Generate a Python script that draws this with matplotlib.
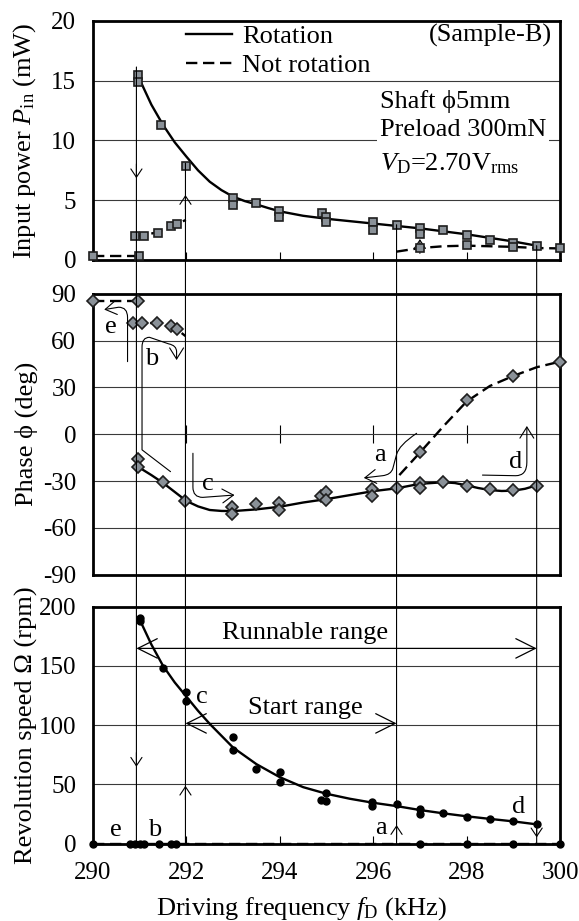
import matplotlib
matplotlib.use('Agg')
import matplotlib.pyplot as plt
from matplotlib.patches import ConnectionPatch, FancyArrowPatch
from matplotlib.path import Path
from matplotlib.lines import Line2D

plt.rcParams['font.family'] = ['Liberation Serif', 'DejaVu Serif']
plt.rcParams['mathtext.fontset'] = 'custom'
plt.rcParams['mathtext.rm'] = 'Liberation Serif'
plt.rcParams['mathtext.it'] = 'Liberation Serif:italic'
plt.rcParams['axes.unicode_minus'] = False
plt.rcParams['font.size'] = 19

# --- input power (top) ---
pin_rot_f = [290.97, 290.97, 291.46, 292.0, 293.0, 293.0, 293.49, 293.98, 293.98, 294.9, 295.0, 295.0,
             296.0, 296.0, 296.5, 297.0, 297.0, 297.5, 298.0, 298.5, 299.0, 299.5]
pin_rot = [15.5, 14.9, 11.3, 7.9, 5.2, 4.6, 4.8, 4.1, 3.6, 3.9, 3.6, 3.2,
           3.2, 2.5, 2.97, 2.7, 2.2, 2.5, 2.1, 1.7, 1.45, 1.2]
pin_rot_curve_f = [291.0, 291.25, 291.5, 291.75, 292.0, 292.25, 292.5, 292.75, 293.0, 293.25, 293.5,
                   293.75, 294.0, 294.5, 295.0, 296.0, 297.0, 298.0, 299.0, 299.5]
pin_rot_curve = [15.1, 13.0, 11.3, 9.85, 8.65, 7.5, 6.55, 5.85, 5.3, 4.93, 4.65,
                 4.35, 4.07, 3.7, 3.45, 3.05, 2.65, 2.15, 1.55, 1.2]
pin_not_f = [290.0, 290.99, 290.89, 291.09, 291.39, 291.68, 291.79, 297.0, 298.0, 299.0, 300.0]
pin_not = [0.33, 0.33, 2.0, 2.0, 2.3, 2.85, 3.0, 0.97, 1.25, 1.05, 0.97]
pin_not_c1_f = [290.0, 290.99]
pin_not_c1 = [0.33, 0.33]
pin_not_c2_f = [290.89, 291.09, 291.39, 291.68, 291.99]
pin_not_c2 = [2.0, 2.05, 2.35, 2.85, 3.35]
pin_not_c3_f = [296.5, 297.0, 297.5, 298.0, 298.5, 299.0, 299.5, 300.0]
pin_not_c3 = [0.7, 1.0, 1.15, 1.2, 1.15, 1.1, 1.0, 0.97]

# --- phase (middle) ---
ph_rot_f = [290.96, 290.96, 291.49, 291.98, 292.98, 292.98, 293.48, 293.98, 293.98, 294.88, 295.0, 295.0,
            295.98, 295.98, 296.5, 297.0, 297.0, 297.5, 298.0, 298.5, 299.0, 299.5]
ph_rot = [-15.8, -20.7, -30.8, -42.7, -46.4, -51.3, -44.9, -44.2, -48.5, -39.3, -37.2, -42.1,
          -35.1, -39.3, -34.6, -31.4, -34.6, -30.8, -32.9, -35.3, -35.7, -32.9]
ph_rot_curve_f = [290.96, 291.25, 291.5, 291.75, 292.0, 292.25, 292.5, 292.75, 293.0, 293.5, 294.0,
                  294.5, 295.0, 296.0, 296.5, 297.0, 297.5, 297.75, 298.0, 298.25, 298.5, 298.75,
                  299.0, 299.25, 299.5]
ph_rot_curve = [-20.8, -26.2, -31.2, -37.0, -42.8, -46.3, -48.6, -49.2, -49.3, -48.2, -46.5,
                -43.8, -41.6, -36.5, -34.7, -31.8, -30.8, -31.3, -32.8, -34.5, -35.8, -36.4,
                -36.2, -35.0, -32.8]
ph_not_f = [290.0, 290.96, 290.86, 291.05, 291.36, 291.66, 291.79, 297.0, 298.0, 299.0, 300.0]
ph_not = [85.7, 85.7, 71.2, 71.6, 71.2, 69.7, 67.5, -11.5, 22.0, 37.4, 46.6]
ph_not_c1_f = [290.0, 290.96]
ph_not_c1 = [85.7, 85.7]
ph_not_c2_f = [290.86, 291.05, 291.36, 291.66, 291.79, 291.98]
ph_not_c2 = [71.2, 71.6, 71.2, 69.7, 67.5, 63.0]
ph_not_c3_f = [296.56, 297.0, 297.5, 298.0, 298.5, 299.0, 299.5, 300.0]
ph_not_c3 = [-26.2, -11.8, 5.0, 21.0, 31.0, 37.4, 43.0, 46.6]

# --- revolution speed (bottom) ---
om_rot_f = [291.0, 291.0, 291.49, 291.99, 291.99, 292.99, 292.99, 293.48, 294.0, 294.0, 294.88, 295.0,
            295.0, 295.98, 295.98, 296.5, 297.0, 297.0, 297.5, 298.0, 298.5, 299.0, 299.5]
om_rot = [190.0, 188.0, 148.0, 128.0, 120.0, 89.5, 79.0, 63.0, 60.0, 52.0, 37.0, 42.5,
          35.5, 35.0, 31.6, 33.0, 29.0, 25.0, 26.0, 22.0, 20.7, 19.0, 16.8]
om_rot_curve_f = [291.0, 291.25, 291.5, 291.75, 292.0, 292.25, 292.5, 293.0, 293.5, 294.0, 294.5,
                  295.0, 295.5, 296.0, 296.5, 297.0, 297.5, 298.0, 298.5, 299.0, 299.5]
om_rot_curve = [189.0, 168.0, 150.0, 136.0, 124.0, 112.0, 101.0, 81.0, 67.0, 56.0, 47.6,
                42.0, 37.8, 34.4, 31.6, 28.3, 25.5, 23.0, 20.8, 18.7, 16.2]
om_not_f = [290.0, 290.8, 290.9, 291.0, 291.1, 291.41, 291.68, 291.77, 297.0, 298.0, 299.0, 300.0]
om_not = [0, 0, 0, 0, 0, 0, 0, 0, 0, 0, 0, 0]

# vertical guide lines (frequency, start value in top panel)
guide_f = [290.93, 291.98, 296.5, 299.5]
guide_top = [16.15, 8.1, 2.95, 1.2]

xticks = [290, 292, 294, 296, 298, 300]
GRAY = '#8a9198'
EDGE = '#1e1e1e'
DASH = (0, (4.8, 2.4))

fig = plt.figure(figsize=(5.79, 9.21), dpi=100)
ax1 = fig.add_axes([0.1606, 0.7177, 0.8066, 0.2595])
ax2 = fig.add_axes([0.1606, 0.3762, 0.8066, 0.3046])
ax3 = fig.add_axes([0.1606, 0.0841, 0.8066, 0.2573])


def style(ax, ylim, yticks, label_y):
    ax.set_xlim(290, 300)
    ax.set_ylim(*ylim)
    ax.set_yticks(yticks)
    ax.set_xticks(xticks)
    for s in ax.spines.values():
        s.set_linewidth(2.0)
    ax.grid(axis='y', color='#3a3a3a', lw=0.8)
    ax.set_axisbelow(True)
    ax.tick_params(axis='y', length=0, pad=12, labelsize=18)
    ax.tick_params(axis='x', direction='in', length=6, width=0.8, pad=13, labelsize=18)
    ax.yaxis.set_label_coords(-0.118, label_y)


style(ax1, (0, 20), [0, 5, 10, 15, 20], 0.535)
style(ax2, (-90, 90), [-90, -60, -30, 0, 30, 60, 90], 0.476)
style(ax3, (0, 200), [0, 50, 100, 150, 200], 0.47)
ax1.tick_params(axis='x', labelbottom=False)
ax2.tick_params(axis='x', length=0, labelbottom=False)

# cross ticks on the zero line of the phase panel
sec = ax2.secondary_xaxis(0.5)
sec.set_xticks([292, 294, 296, 298])
sec.tick_params(direction='inout', length=13, width=0.8, labeltop=False, labelbottom=False)
for s in sec.spines.values():
    s.set_visible(False)

sq = dict(marker='s', ms=6.0, mfc=GRAY, mec=EDGE, mew=1.2, ls='none', clip_on=False, zorder=4)
dm = dict(marker='D', ms=6.0, mfc=GRAY, mec=EDGE, mew=1.2, ls='none', clip_on=False, zorder=4)
ci = dict(marker='o', ms=5, mfc='k', mec='k', ls='none', clip_on=False, zorder=4)

# top panel
ax1.plot(pin_rot_curve_f, pin_rot_curve, color='k', lw=1.7, zorder=3)
for fx, fy in [(pin_not_c1_f, pin_not_c1), (pin_not_c2_f, pin_not_c2), (pin_not_c3_f, pin_not_c3)]:
    ax1.plot(fx, fy, color='k', lw=1.7, ls=DASH, zorder=3)
ax1.plot(pin_rot_f, pin_rot, **sq)
ax1.plot(pin_not_f, pin_not, **sq)

h1 = Line2D([], [], color='k', lw=1.7)
h2 = Line2D([], [], color='k', lw=1.7, ls=DASH)
ax1.legend([h1, h2], ['Rotation', 'Not rotation'], loc='upper left', bbox_to_anchor=(0.2, 0.984),
           frameon=False, borderpad=0, borderaxespad=0, handlelength=1.74, handletextpad=0.38,
           labelspacing=0.2, fontsize=19)
ax1.text(0.982, 0.94, '(Sample-B)', transform=ax1.transAxes, ha='right', va='center')
ax1.text(296.14, 13.3, 'Shaft ϕ5mm', va='center')
ax1.text(296.14, 10.85, 'Preload 300mN', va='center', bbox=dict(fc='white', ec='none', pad=2))
ax1.text(296.14, 8.1, '$V_{\\rm D}$=2.70V$_{\\rm rms}$', va='center')
ax1.set_ylabel('Input power $P_{\\rm in}$ (mW)')

# middle panel
ax2.plot(ph_rot_curve_f, ph_rot_curve, color='k', lw=1.7, zorder=3)
for fx, fy in [(ph_not_c1_f, ph_not_c1), (ph_not_c2_f, ph_not_c2), (ph_not_c3_f, ph_not_c3)]:
    ax2.plot(fx, fy, color='k', lw=1.7, ls=DASH, zorder=3)
ax2.plot(ph_rot_f, ph_rot, **dm)
ax2.plot(ph_not_f, ph_not, **dm)
ax2.set_ylabel('Phase ϕ (deg)')

# bottom panel
ax3.plot(om_rot_curve_f, om_rot_curve, color='k', lw=1.7, zorder=3)
ax3.plot(om_not_f, om_not, color='k', lw=1.7, ls=DASH, zorder=3, clip_on=False)
ax3.plot(om_rot_f, om_rot, **ci)
ax3.plot(om_not_f, om_not, **ci)
ax3.set_ylabel('Revolution speed Ω (rpm)')
ax3.set_xlabel('Driving frequency $f_{\\rm D}$ (kHz)')
ax3.xaxis.set_label_coords(0.447, -0.218)

# guide lines through all panels
for gx, gy in zip(guide_f, guide_top):
    con = ConnectionPatch(xyA=(gx, gy), coordsA='data', axesA=ax1,
                          xyB=(gx, 0), coordsB='data', axesB=ax3, color='k', lw=0.8, zorder=5)
    fig.add_artist(con)

small_head = '->,head_length=0.3,head_width=0.2'


def head(ax, x, tip, down):
    d = 1 if down else -1
    span = ax.get_ylim()[1] - ax.get_ylim()[0]
    ax.annotate('', xy=(x, tip), xytext=(x, tip + d * span * 0.06),
                arrowprops=dict(arrowstyle=small_head, lw=0.8, color='k',
                                shrinkA=0, shrinkB=0, mutation_scale=20))


head(ax1, 290.93, 6.84, True)
head(ax1, 291.98, 5.44, False)
head(ax1, 297.0, 1.75, False)
head(ax3, 290.93, 64.8, True)
head(ax3, 291.98, 48.8, False)
head(ax3, 296.5, 15.6, False)
head(ax3, 299.5, 5.2, True)


def curved(ax, verts, codes):
    p = FancyArrowPatch(path=Path(verts, codes), arrowstyle='->,head_length=0.4,head_width=0.25',
                        mutation_scale=20, lw=0.8, color='k', transform=ax.transData, zorder=5)
    ax.add_artist(p)


M, L, C = Path.MOVETO, Path.LINETO, Path.CURVE3
curved(ax2, [(290.74, 46.6), (290.74, 75.0), (290.74, 81.5), (290.55, 81.5), (290.24, 80.0)],
       [M, L, C, C, L])
curved(ax2, [(291.66, -24.0), (291.05, -10.0), (291.05, 56.0), (291.05, 62.2), (291.21, 62.2),
             (291.62, 58.0), (291.79, 57.0), (291.79, 53.0), (291.79, 47.6)],
       [M, L, L, C, C, L, C, C, L])
curved(ax2, [(292.14, -12.2), (292.14, -34.0), (292.14, -40.5), (292.35, -40.5), (293.03, -39.0)],
       [M, L, C, C, L])
curved(ax2, [(296.93, 0.6), (296.55, -7.0), (296.5, -13.0), (296.42, -22.0), (296.38, -26.0),
             (296.2, -26.6), (295.8, -28.0)],
       [M, C, C, L, C, C, L])
curved(ax2, [(298.34, -26.2), (299.05, -26.6), (299.29, -26.6), (299.29, -18.0), (299.29, 5.3)],
       [M, L, C, C, L])

for lx, ly, s in [(290.38, 69, 'e'), (291.25, 48, 'b'), (292.45, -32, 'c'),
                  (296.14, -13.3, 'a'), (299.04, -17.6, 'd')]:
    ax2.text(lx, ly, s, ha='center', va='center')
for lx, ly, s in [(290.5, 11.4, 'e'), (291.33, 11.4, 'b'), (292.33, 123.9, 'c'),
                  (296.17, 12.7, 'a'), (299.11, 31, 'd')]:
    ax3.text(lx, ly, s, ha='center', va='center')

range_head = '<->,head_length=0.7,head_width=0.35'
ax3.annotate('', xy=(299.5, 164.7), xytext=(290.93, 164.7),
             arrowprops=dict(arrowstyle=range_head, lw=0.9, color='k', shrinkA=0, shrinkB=0,
                             mutation_scale=20))
ax3.annotate('', xy=(296.5, 101.4), xytext=(291.98, 101.4),
             arrowprops=dict(arrowstyle=range_head, lw=0.9, color='k', shrinkA=0, shrinkB=0,
                             mutation_scale=20))
ax3.text(294.55, 177.4, 'Runnable range', ha='center', va='center')
ax3.text(294.55, 114, 'Start range', ha='center', va='center')

fig.savefig('out.png', dpi=100)
